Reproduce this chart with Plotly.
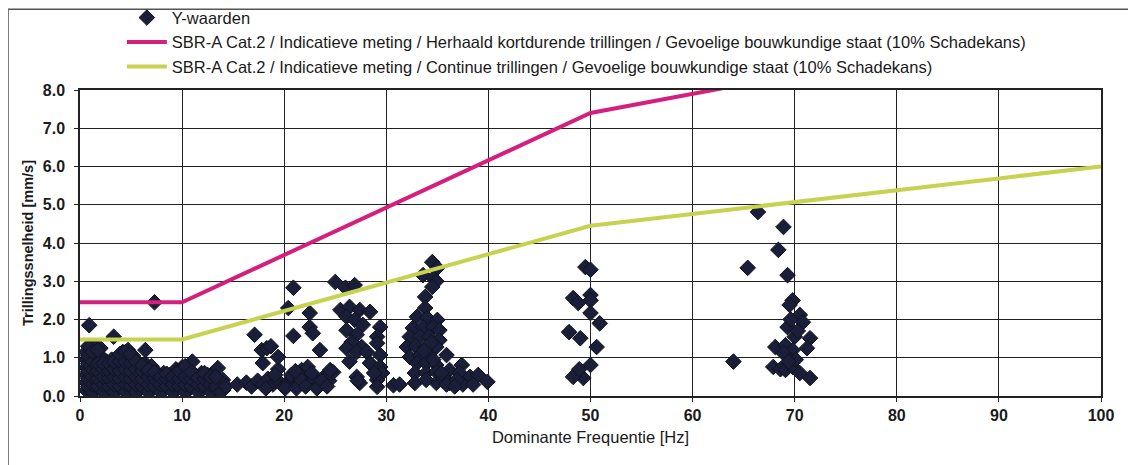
import plotly.graph_objects as go

# meetpunten (dominante frequentie [Hz], trillingssnelheid [mm/s])
punten_0_15 = [
    (0.6, 0.15), (0.6, 0.35), (0.6, 0.55), (0.6, 0.75), (0.6, 0.95), (0.6, 1.15),
    (1.0, 0.2), (1.0, 0.4), (1.0, 0.6), (1.0, 0.8), (1.0, 1.0), (1.0, 1.25), (0.9, 1.85),
    (1.5, 0.15), (1.5, 0.3), (1.5, 0.5), (1.5, 0.7), (1.5, 0.9), (1.5, 1.1), (1.5, 1.3),
    (2.0, 0.2), (2.0, 0.4), (2.0, 0.6), (2.0, 0.8), (2.0, 1.05), (2.0, 1.25),
    (2.6, 0.15), (2.6, 0.35), (2.6, 0.55), (2.6, 0.75), (2.6, 0.9),
    (3.1, 0.2), (3.1, 0.4), (3.1, 0.6), (3.1, 0.8), (3.1, 0.95), (3.3, 1.55),
    (3.6, 0.15), (3.6, 0.3), (3.6, 0.5), (3.6, 0.7), (3.6, 0.85),
    (4.2, 0.2), (4.2, 0.4), (4.2, 0.6), (4.2, 0.8), (4.2, 1.0), (4.2, 1.15),
    (4.7, 0.15), (4.7, 0.35), (4.7, 0.55), (4.7, 0.75), (4.7, 0.95), (4.7, 1.2),
    (5.2, 0.2), (5.2, 0.4), (5.2, 0.6), (5.2, 0.8), (5.2, 1.05),
    (5.8, 0.15), (5.8, 0.3), (5.8, 0.5), (5.8, 0.7), (5.8, 0.85),
    (6.4, 0.2), (6.4, 0.4), (6.4, 0.6), (6.4, 0.85), (6.4, 1.2),
    (7.0, 0.15), (7.0, 0.35), (7.0, 0.55), (7.0, 0.78), (7.3, 2.45),
    (7.6, 0.2), (7.6, 0.4), (7.6, 0.6),
    (8.2, 0.15), (8.2, 0.3), (8.2, 0.5), (8.2, 0.6),
    (8.8, 0.2), (8.8, 0.4), (8.8, 0.55),
    (9.4, 0.15), (9.4, 0.35), (9.4, 0.55), (9.4, 0.7),
    (10.0, 0.2), (10.0, 0.4), (10.0, 0.6), (10.0, 0.75),
    (10.6, 0.15), (10.6, 0.35), (10.6, 0.55), (10.6, 0.7), (11.0, 0.9),
    (11.3, 0.2), (11.3, 0.4), (11.3, 0.55),
    (11.9, 0.15), (11.9, 0.3), (11.9, 0.5), (11.9, 0.6),
    (12.5, 0.2), (12.5, 0.35), (12.5, 0.55),
    (13.0, 0.15), (13.0, 0.3), (13.0, 0.45), (13.0, 0.6),
    (13.5, 0.2), (13.5, 0.35), (13.5, 0.73),
    (14.0, 0.15), (14.0, 0.3), (14.0, 0.42),
]

punten_0_15_extra = [
    (0.8, 0.25), (0.8, 0.45), (0.8, 0.65), (0.8, 0.85), (0.8, 1.05), (0.8, 1.3),
    (1.25, 0.1), (1.25, 0.3), (1.25, 0.5), (1.25, 0.7), (1.25, 0.9), (1.25, 1.15),
    (1.75, 0.25), (1.75, 0.45), (1.75, 0.65), (1.75, 0.85), (1.75, 1.2),
    (2.3, 0.1), (2.3, 0.3), (2.3, 0.5), (2.3, 0.7), (2.3, 0.85),
    (2.85, 0.25), (2.85, 0.45), (2.85, 0.65), (2.85, 0.85),
    (3.35, 0.1), (3.35, 0.3), (3.35, 0.5), (3.35, 0.7), (3.35, 0.9),
    (3.9, 0.25), (3.9, 0.45), (3.9, 0.65), (3.9, 0.9), (3.9, 1.1),
    (4.45, 0.1), (4.45, 0.3), (4.45, 0.5), (4.45, 0.7), (4.45, 0.9), (4.45, 1.15),
    (4.95, 0.25), (4.95, 0.45), (4.95, 0.65), (4.95, 0.85), (4.95, 1.1),
    (5.5, 0.1), (5.5, 0.3), (5.5, 0.5), (5.5, 0.7), (5.5, 0.9),
    (6.1, 0.25), (6.1, 0.45), (6.1, 0.65), (6.1, 0.8),
    (6.7, 0.1), (6.7, 0.3), (6.7, 0.5), (6.7, 0.68),
    (7.3, 0.25), (7.3, 0.45), (7.3, 0.62),
    (7.9, 0.1), (7.9, 0.3), (7.9, 0.5),
    (8.5, 0.25), (8.5, 0.45), (8.5, 0.58),
    (9.1, 0.1), (9.1, 0.3), (9.1, 0.5),
    (9.7, 0.25), (9.7, 0.45), (9.7, 0.65),
    (10.3, 0.1), (10.3, 0.3), (10.3, 0.5), (10.3, 0.78),
    (10.9, 0.25), (10.9, 0.45), (10.9, 0.62),
    (11.6, 0.1), (11.6, 0.3), (11.6, 0.48),
    (12.2, 0.25), (12.2, 0.45), (12.2, 0.6),
    (12.8, 0.1), (12.8, 0.3), (12.8, 0.5),
    (13.3, 0.25), (13.3, 0.5),
    (13.8, 0.1), (14.3, 0.25),
]

punten_15_31 = [
    (15.4, 0.3), (16.3, 0.35), (16.8, 0.25), (17.4, 0.4), (17.9, 0.3), (18.4, 0.45),
    (18.9, 0.3), (19.4, 0.4), (19.9, 0.25), (20.4, 0.35), (20.9, 0.45), (21.4, 0.3),
    (21.9, 0.5), (22.4, 0.35), (22.9, 0.45), (23.4, 0.3), (23.9, 0.5), (24.4, 0.4),
    (24.8, 0.62), (21.7, 0.68), (22.3, 0.76), (24.5, 0.68), (19.4, 0.7), (17.9, 0.86),
    (19.4, 1.02), (17.8, 1.2), (18.3, 1.25), (18.7, 1.3), (17.1, 1.6), (20.9, 1.57),
    (20.4, 2.3), (20.9, 2.83), (22.5, 2.17), (22.5, 1.8), (22.8, 1.64), (23.5, 1.2),
    (25.0, 2.98), (26.0, 2.83), (26.9, 2.9), (25.5, 2.25), (26.4, 2.33), (27.4, 2.25),
    (28.4, 2.2), (26.1, 2.07), (26.9, 1.99), (27.7, 1.86), (29.4, 1.8), (26.1, 1.72),
    (27.1, 1.6), (29.1, 1.55), (26.6, 1.41), (27.6, 1.28), (29.1, 1.38), (26.1, 1.25),
    (27.1, 1.15), (28.1, 1.15), (29.4, 1.07), (26.4, 0.9), (28.4, 0.86), (29.4, 0.76),
    (29.6, 0.6), (27.1, 0.5), (27.4, 0.34), (29.1, 0.42), (29.1, 0.24), (28.8, 0.6),
    (27.2, 0.4), (30.7, 0.28), (31.3, 0.3),
    (18.2, 0.2), (19.1, 0.55), (20.1, 0.2), (20.7, 0.55), (21.2, 0.2), (21.6, 0.45),
    (22.1, 0.25), (22.7, 0.6), (23.2, 0.2), (23.7, 0.4), (24.2, 0.25), (21.1, 0.65),
]

punten_32_40 = [
    (34.5, 3.5), (35.0, 3.35), (33.6, 3.16), (34.6, 3.08), (34.9, 3.0), (34.5, 2.85),
    (33.8, 2.59), (33.8, 2.3), (33.0, 2.07), (34.0, 2.04), (35.0, 1.99), (32.6, 1.78),
    (33.6, 1.8), (34.6, 1.8), (35.2, 1.72), (32.3, 1.55), (33.3, 1.55), (34.2, 1.55),
    (35.2, 1.46), (32.0, 1.28), (32.9, 1.3), (33.9, 1.28), (34.9, 1.28), (32.3, 1.02),
    (33.3, 1.07), (34.2, 1.07), (35.9, 1.07), (33.0, 0.86), (33.9, 0.86), (34.9, 0.81),
    (32.8, 0.6), (33.9, 0.6), (34.9, 0.63), (36.2, 0.68), (37.4, 0.81), (37.2, 0.6),
    (38.2, 0.5), (39.0, 0.55), (39.9, 0.37), (32.8, 0.34), (34.9, 0.34), (36.2, 0.34),
    (37.5, 0.3), (38.5, 0.3), (35.6, 0.45), (36.9, 0.42), (33.9, 0.42),
    (34.4, 1.4), (33.7, 1.18), (34.6, 0.95), (35.4, 0.6), (35.9, 0.3), (36.7, 0.25),
]

punten_48_51 = [
    (49.5, 3.37), (50.0, 3.3), (48.3, 2.56), (48.8, 2.43), (50.0, 2.64), (50.0, 2.5),
    (50.0, 2.17), (50.9, 1.9), (47.9, 1.67), (49.0, 1.51), (50.6, 1.28), (50.0, 0.81),
    (48.7, 0.6), (49.3, 0.47), (48.3, 0.5), (48.9, 0.7),
]

punten_64_72 = [
    (66.4, 4.81), (68.9, 4.42), (68.4, 3.82), (65.4, 3.35), (69.3, 3.16), (69.8, 2.5),
    (69.5, 2.38), (70.5, 2.12), (70.8, 1.93), (69.3, 1.8), (70.0, 1.55), (71.5, 1.51),
    (68.1, 1.28), (69.1, 1.33), (69.8, 1.2), (71.2, 1.25), (68.9, 1.12), (64.0, 0.9),
    (67.9, 0.76), (68.6, 0.7), (69.1, 0.68), (69.8, 0.76), (70.5, 0.6), (71.5, 0.47),
    (70.1, 0.95), (69.6, 2.0), (70.3, 1.7), (69.4, 0.9),
]

# grenswaarden SBR-A Cat.2
grens_freq = [0, 10, 50, 100]
grens_kortdurend = [2.45, 2.45, 7.4, 9.9]
grens_continu = [1.48, 1.48, 4.45, 6.0]

naam_punten = "Y-waarden"
naam_kortdurend = ("SBR-A Cat.2 / Indicatieve meting / Herhaald kortdurende trillingen / "
                   "Gevoelige bouwkundige staat (10% Schadekans)")
naam_continu = ("SBR-A Cat.2 / Indicatieve meting / Continue trillingen / "
                "Gevoelige bouwkundige staat (10% Schadekans)")

alle_punten = (punten_0_15 + punten_0_15_extra + punten_15_31 + punten_32_40
               + punten_48_51 + punten_64_72)
px = [p[0] for p in alle_punten]
py = [p[1] for p in alle_punten]

fig = go.Figure()
fig.add_trace(go.Scatter(
    x=px, y=py, mode="markers", name=naam_punten,
    marker=dict(symbol="diamond", size=12, color="#1a1e38",
                line=dict(color="#10131f", width=1)),
))
fig.add_trace(go.Scatter(
    x=grens_freq, y=grens_kortdurend, mode="lines", name=naam_kortdurend,
    line=dict(color="#d41f7c", width=4),
))
fig.add_trace(go.Scatter(
    x=grens_freq, y=grens_continu, mode="lines", name=naam_continu,
    line=dict(color="#c6d250", width=4),
))

# de pagina heeft 8px body-marge, daarom marges 8px kleiner links/boven
fig.update_layout(
    width=1136, height=465,
    margin=dict(l=72, r=43, t=82, b=77, autoexpand=False),
    paper_bgcolor="white", plot_bgcolor="white",
    font=dict(family="Liberation Sans, Arial, sans-serif", color="#1a1a1a", size=14),
    legend=dict(x=0.041, y=1.293, xanchor="left", yanchor="top",
                font=dict(size=16.5), bgcolor="rgba(0,0,0,0)",
                tracegroupgap=0, itemwidth=40),
    shapes=[dict(type="rect", xref="paper", yref="paper",
                 x0=-0.0705, x1=1.1, y0=-0.5, y1=1.264,
                 line=dict(color="#555", width=1.5), layer="below")],
)
fig.update_xaxes(
    range=[0, 100], dtick=10, tick0=0, automargin=False,
    showgrid=True, gridcolor="#222", gridwidth=1,
    showline=True, linecolor="#222", linewidth=1.5, mirror=True,
    ticks="outside", ticklen=4, tickcolor="#222",
    tickfont=dict(size=16), zeroline=False,
    tickprefix="<b>", ticksuffix="</b>",
    title=dict(text="Dominante Frequentie [Hz]", font=dict(size=16.5), standoff=8),
)
fig.update_yaxes(
    range=[0, 8], dtick=1, tick0=0, tickformat=".1f", automargin=False,
    showgrid=True, gridcolor="#222", gridwidth=1,
    showline=True, linecolor="#222", linewidth=1.5, mirror=True,
    ticks="outside", ticklen=4, tickcolor="#222", ticklabelstandoff=6,
    tickfont=dict(size=16), zeroline=False,
    tickprefix="<b>", ticksuffix="</b>",
    title=dict(text="<b>Trillingssnelheid [mm/s]</b>", font=dict(size=14.5), standoff=6),
)

fig.write_html("out.html")
